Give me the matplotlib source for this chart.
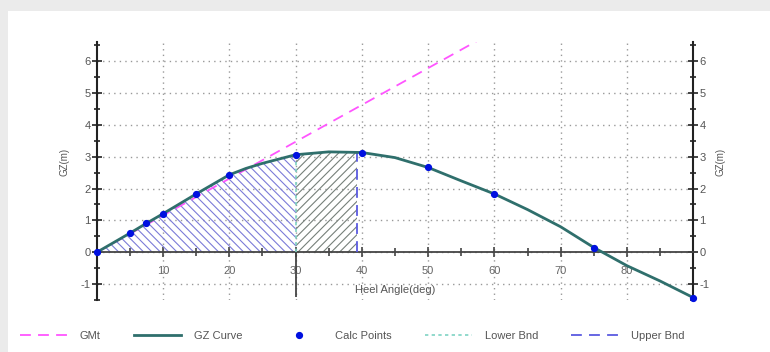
import numpy as np
import matplotlib
matplotlib.use('Agg')
import matplotlib.pyplot as plt
from matplotlib.patches import Rectangle

# GZ curve
heel = [0, 5, 7.5, 10, 15, 20, 22.5, 25, 30, 35, 40, 45, 50, 55, 60, 65, 70, 75, 80, 85, 90]
gz = [0, 0.6, 0.91, 1.21, 1.83, 2.43, 2.63, 2.79, 3.06, 3.15, 3.13, 2.97, 2.66, 2.24,
      1.83, 1.34, 0.80, 0.15, -0.42, -0.90, -1.42]

calc_heel = [0, 5, 7.5, 10, 15, 20, 30, 40, 50, 60, 75, 90]
calc_gz = [0, 0.6, 0.91, 1.21, 1.83, 2.43, 3.06, 3.13, 2.66, 1.83, 0.15, -1.42]

gmt_heel = [0, 57.3]
gmt_gz = [0, 6.62]

lower_bnd = 30
lower_gz = 3.06
upper_bnd = 39.3
upper_gz = 3.13

xticks = [10, 20, 30, 40, 50, 60, 70, 80]
yticks = [-1, 0, 1, 2, 3, 4, 5, 6]

plt.rcParams['font.family'] = ['Liberation Sans', 'DejaVu Sans']
plt.rcParams['hatch.linewidth'] = 0.8
plt.rcParams['axes.unicode_minus'] = False

fig = plt.figure(figsize=(7.7, 3.52), dpi=100, facecolor='#ebebeb')
fig.patches.append(Rectangle((8 / 770, 0), 1, (352 - 11) / 352, transform=fig.transFigure,
                             facecolor='white', edgecolor='none', zorder=-10))

ax = fig.add_axes([0.1256, 0.1472, 0.7748, 0.734], zorder=1)
ax.set_facecolor('none')
ax.set_xlim(0, 90)
ax.set_ylim(-1.4, 6.6)

# hatched areas, clipped to the angle bounds
blue_fill = ax.fill_between(heel, gz, 0, facecolor='none', edgecolor='#7b7bd8',
                            hatch='\\\\\\\\', linewidth=0, zorder=2)
blue_fill.set_clip_path(Rectangle((0, -1), lower_bnd, 5, transform=ax.transData))
gray_fill = ax.fill_between(heel, gz, 0, facecolor='none', edgecolor='#76807a',
                            hatch='////', linewidth=0, zorder=2)
gray_fill.set_clip_path(Rectangle((lower_bnd, -1), upper_bnd - lower_bnd, 5, transform=ax.transData))

ax.plot(gmt_heel, gmt_gz, color='#ff55ff', lw=1.3, dashes=(6, 4), zorder=3, label='GMt')
ax.plot(heel, gz, color='#2f6f6c', lw=2, zorder=4, label='GZ Curve')
ax.plot(calc_heel, calc_gz, 'o', color='#0010e0', ms=4.2, zorder=5, clip_on=False,
        label='Calc Points')
ax.plot([lower_bnd, lower_bnd], [0, lower_gz], color='#7fd3c3', lw=1.2, ls=(0, (2, 2)),
        zorder=3, label='Lower Bnd')
ax.plot([upper_bnd, upper_bnd], [0, upper_gz], color='#5a5ae0', lw=1.3, dashes=(6, 4),
        zorder=3, label='Upper Bnd')
ax.vlines(lower_bnd, -1.4, 0, color='#444444', lw=1.3, zorder=3)

# axes / ticks
ax.spines['top'].set_visible(False)
ax.spines['bottom'].set_position(('data', 0))
ax.spines['bottom'].set_color('#444444')
ax.spines['bottom'].set_linewidth(1.3)
for s in ['left', 'right']:
    ax.spines[s].set_color('#222222')
    ax.spines[s].set_linewidth(1.5)

ax.set_xticks(xticks)
ax.set_xticks([5, 15, 25, 35, 45, 55, 65, 75, 85], minor=True)
ax.set_yticks(yticks)
ax.set_yticks(np.arange(-1.5, 6.6, 1.0), minor=True)
ax.tick_params(axis='x', which='major', direction='inout', length=7, width=1.2,
               colors='#444444', labelcolor='#666666', labelsize=8, pad=6)
ax.tick_params(axis='x', which='minor', direction='inout', length=6, width=1.2, colors='#444444')
ax.tick_params(axis='y', which='both', direction='inout', length=7, width=1.2,
               colors='#222222', labelcolor='#555555', labelsize=8, pad=1,
               left=True, right=True, labelleft=True, labelright=True)
ax.tick_params(axis='y', which='minor', length=5)

ax.grid(True, which='major', color='#999999', lw=1, ls=(0, (1, 3)))

ax.set_xlabel('Heel Angle(deg)', fontsize=8, color='#555555')
ax.xaxis.set_label_coords(0.5, 0.058)
ax.set_ylabel('GZ(m)', fontsize=7, color='#555555')
ax.yaxis.set_label_coords(-0.045, 0.535)
fig.text(720 / 770, 1 - 162 / 352, 'GZ(m)', rotation=90, fontsize=7, color='#555555',
         ha='center', va='center')

fs = 8
px = fs * 100 / 72
leg = fig.legend(loc='center left', bbox_to_anchor=(20 / 770, 1 - 336 / 352), ncol=5,
                 frameon=False, fontsize=fs, handlelength=47 / px, handletextpad=13 / px,
                 columnspacing=33 / px, borderpad=0, borderaxespad=0, numpoints=1)
for t in leg.get_texts():
    t.set_color('#555555')

fig.savefig('out.png', dpi=100, facecolor=fig.get_facecolor())
